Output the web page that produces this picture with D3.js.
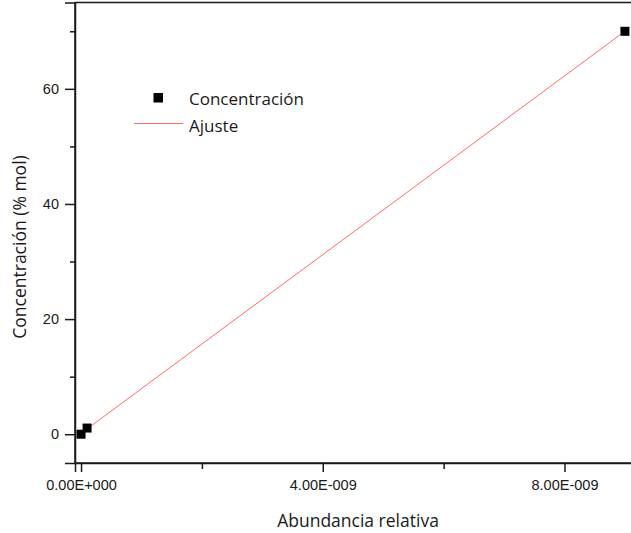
<!DOCTYPE html>
<html>
<head>
<meta charset="utf-8">
<script src="https://cdn.jsdelivr.net/npm/d3@7"></script>
<style>
  body { margin: 0; background: #fff; }
  svg { display: block; font-family: "Open Sans", sans-serif; }
  .axis path, .axis line { stroke: #1a1a1a; }
  .axis text { fill: #1a1a1a; font-size: 14.5px; }
</style>
</head>
<body>
<div class="visHolder"></div>
<script>
const width = 631;
const height = 533;

// measured points
const abundancia = [0, 1.0e-10, 9.0e-9];
const concentracion = [0, 1.07, 70.0];

// linear fit ("Ajuste")
const fitX = [0, 9.0e-9];
const fitY = [0.15, 70.0];

const xTicks = [0, 4e-9, 8e-9];
const xTickLabels = ['0.00E+000', '4.00E-009', '8.00E-009'];
const xMinor = [2e-9, 6e-9];
const yTicks = [0, 20, 40, 60];
const yMinor = [10, 30, 50, 70];

const plotLeft = 75, plotRight = 637, plotTop = 2.5, plotBottom = 463;

const svg = d3.select('.visHolder')
  .append('svg')
  .attr('width', width)
  .attr('height', height);

const xScale = d3.scaleLinear()
  .domain([-1e-10, 9.2e-9])
  .range([plotLeft, plotRight]);

const yScale = d3.scaleLinear()
  .domain([-5, 75])
  .range([plotBottom, plotTop]);

// frame
svg.append('rect')
  .attr('x', plotLeft)
  .attr('y', plotTop)
  .attr('width', plotRight - plotLeft)
  .attr('height', plotBottom - plotTop)
  .attr('fill', 'none')
  .attr('stroke', '#1a1a1a')
  .attr('stroke-width', 1.5);

// minor ticks
svg.append('g')
  .attr('class', 'axis')
  .attr('transform', `translate(0, ${plotBottom})`)
  .call(d3.axisBottom(xScale).tickValues(xMinor).tickSize(6).tickFormat(''))
  .call(g => g.select('.domain').remove())
  .selectAll('line').attr('stroke-width', 1.5);

svg.append('g')
  .attr('class', 'axis')
  .attr('transform', `translate(${plotLeft}, 0)`)
  .call(d3.axisLeft(yScale).tickValues(yMinor).tickSize(5).tickFormat(''))
  .call(g => g.select('.domain').remove())
  .selectAll('line').attr('stroke-width', 1.5);

// major ticks
const xAxis = svg.append('g')
  .attr('class', 'axis')
  .attr('transform', `translate(0, ${plotBottom})`)
  .call(d3.axisBottom(xScale)
    .tickValues(xTicks)
    .tickSize(9)
    .tickPadding(8)
    .tickFormat((d, i) => xTickLabels[i]));
xAxis.select('.domain').attr('stroke-width', 1.5);
xAxis.selectAll('line').attr('stroke-width', 1.5);

const yAxis = svg.append('g')
  .attr('class', 'axis')
  .attr('transform', `translate(${plotLeft}, 0)`)
  .call(d3.axisLeft(yScale)
    .tickValues(yTicks)
    .tickSize(10)
    .tickPadding(6));
yAxis.select('.domain').attr('stroke-width', 1.5);
yAxis.selectAll('line').attr('stroke-width', 1.5);

// fit line
const line = d3.line()
  .x(d => xScale(d[0]))
  .y(d => yScale(d[1]));

svg.append('path')
  .datum(fitX.map((x, i) => [x, fitY[i]]))
  .attr('d', line)
  .attr('fill', 'none')
  .attr('stroke', '#ff6a6a')
  .attr('stroke-width', 1);

// points
const size = 9;
svg.selectAll('rect.pt')
  .data(abundancia)
  .enter()
  .append('rect')
  .attr('class', 'pt')
  .attr('x', d => xScale(d) - size / 2)
  .attr('y', (d, i) => yScale(concentracion[i]) - size / 2)
  .attr('width', size)
  .attr('height', size)
  .attr('fill', '#000');

// axis titles
svg.append('text')
  .attr('x', 358)
  .attr('y', 527)
  .attr('text-anchor', 'middle')
  .style('font-size', '17.5px')
  .attr('fill', '#1a1a1a')
  .text('Abundancia relativa');

svg.append('text')
  .attr('transform', 'translate(26, 247) rotate(-90)')
  .attr('text-anchor', 'middle')
  .style('font-size', '17.5px')
  .attr('fill', '#1a1a1a')
  .text('Concentración (% mol)');

// legend
const legend = svg.append('g');
legend.append('rect')
  .attr('x', 153.5)
  .attr('y', 93)
  .attr('width', 9.5)
  .attr('height', 9.5)
  .attr('fill', '#000');
legend.append('line')
  .attr('x1', 134)
  .attr('x2', 183)
  .attr('y1', 123.5)
  .attr('y2', 123.5)
  .attr('stroke', '#ff6a6a')
  .attr('stroke-width', 1);
legend.append('text')
  .attr('x', 189)
  .attr('y', 104.5)
  .style('font-size', '17px')
  .attr('fill', '#1a1a1a')
  .text('Concentración');
legend.append('text')
  .attr('x', 189)
  .attr('y', 131.5)
  .style('font-size', '17px')
  .attr('fill', '#1a1a1a')
  .text('Ajuste');
</script>
</body>
</html>
